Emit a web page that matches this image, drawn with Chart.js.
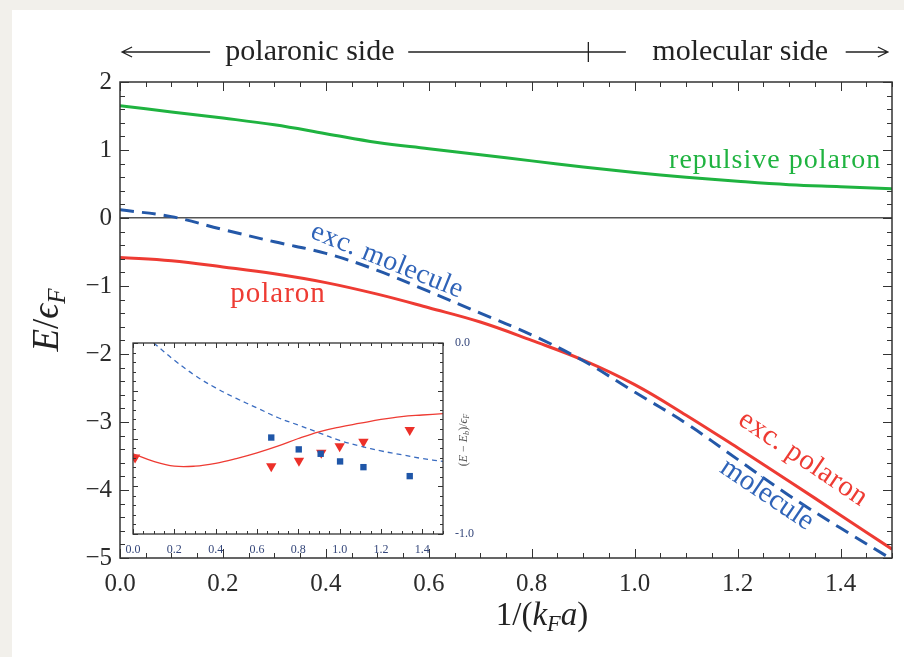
<!DOCTYPE html>
<html>
<head>
<meta charset="utf-8">
<script src="https://cdn.jsdelivr.net/npm/chart.js@4.4.0/dist/chart.umd.min.js"></script>
<style>
  html, body { margin: 0; padding: 0; background: #f2f0eb; }
  #wrap { position: relative; width: 904px; height: 657px; }
  #main { position: absolute; left: 0; top: 0; }
  #inset { position: absolute; left: 100px; top: 320px; }
</style>
</head>
<body>
<div id="wrap">
  <canvas id="main" width="904" height="657"></canvas>
  <canvas id="inset" width="400" height="240"></canvas>
</div>
<script>
// main panel: energies vs 1/(kF a)
const xs = [0, 0.1, 0.2, 0.3, 0.4, 0.5, 0.6, 0.7, 0.8, 0.9, 1.0, 1.1, 1.2, 1.3, 1.4, 1.5];
const repulsive = [1.65, 1.56, 1.47, 1.37, 1.24, 1.11, 1.02, 0.93, 0.84, 0.75, 0.67, 0.60, 0.54, 0.49, 0.46, 0.43];
const polaron = [-0.58, -0.63, -0.72, -0.82, -0.95, -1.12, -1.32, -1.53, -1.80, -2.09, -2.45, -2.90, -3.38, -3.87, -4.37, -4.87];
const molecule = [0.12, 0.02, -0.17, -0.35, -0.52, -0.77, -1.08, -1.40, -1.72, -2.10, -2.56, -3.02, -3.55, -4.08, -4.56, -5.02];

// inset: (E - Eb)/eF
const insetXs = [0, 0.1, 0.2, 0.3, 0.4, 0.5, 0.6, 0.7, 0.8, 0.9, 1.0, 1.1, 1.2, 1.3, 1.4, 1.5];
const insetPolaron = [-0.58, -0.62, -0.645, -0.645, -0.63, -0.605, -0.575, -0.54, -0.50, -0.465, -0.44, -0.42, -0.40, -0.385, -0.377, -0.37];
const insetMolXs = [0.1, 0.2, 0.3, 0.4, 0.5, 0.6, 0.7, 0.8, 0.9, 1.0, 1.1, 1.2, 1.3, 1.4, 1.5];
const insetMolecule = [0, -0.09, -0.17, -0.235, -0.29, -0.34, -0.39, -0.43, -0.47, -0.51, -0.54, -0.565, -0.585, -0.605, -0.62];
const expMolX = [0.669, 0.802, 0.908, 1.002, 1.115, 1.339];
const expMolY = [-0.495, -0.557, -0.58, -0.62, -0.65, -0.697];
const expPolX = [0.01, 0.669, 0.803, 0.911, 1.0, 1.115, 1.339];
const expPolY = [-0.60, -0.645, -0.617, -0.575, -0.54, -0.517, -0.456];

const SERIF = '"Liberation Serif", "DejaVu Serif", serif';
const GREEN = '#1fb340', RED = '#ee3b33', BLUE = '#2458a8';

const pts = (x, y) => x.map((v, i) => ({ x: v, y: y[i] }));

function frameTicks(chart, o) {
  const { ctx, chartArea: a, scales } = chart;
  const x = scales.x, y = scales.y;
  ctx.save();
  ctx.strokeStyle = o.color;
  ctx.lineWidth = 1;
  ctx.beginPath();
  const nx = Math.round((x.max - x.min) / o.xMinor);
  for (let i = 0; i <= nx; i++) {
    const v = x.min + i * o.xMinor;
    const r = v / o.xMajor;
    const L = Math.abs(r - Math.round(r)) < 1e-6 ? o.maj : o.min;
    const px = Math.round(x.getPixelForValue(v)) + 0.5;
    ctx.moveTo(px, a.bottom); ctx.lineTo(px, a.bottom - L);
    ctx.moveTo(px, a.top); ctx.lineTo(px, a.top + L);
  }
  const ny = Math.round((y.max - y.min) / o.yMinor);
  for (let i = 0; i <= ny; i++) {
    const v = y.min + i * o.yMinor;
    const r = v / o.yMajor;
    const L = Math.abs(r - Math.round(r)) < 1e-6 ? o.maj : o.min;
    const py = Math.round(y.getPixelForValue(v)) + 0.5;
    ctx.moveTo(a.left, py); ctx.lineTo(a.left + L, py);
    ctx.moveTo(a.right, py); ctx.lineTo(a.right - L, py);
  }
  ctx.stroke();
  ctx.lineWidth = o.frame;
  ctx.strokeRect(a.left, a.top, a.width, a.height);
  ctx.restore();
}

// draw a run of [text, italic, sub] pieces, centred at 0,0
function richText(ctx, parts, size, color) {
  const pieces = parts.map(([t, it, sub]) => {
    const s = sub ? size * 0.68 : size;
    const f = (it ? 'italic ' : '') + s + 'px ' + SERIF;
    ctx.font = f;
    return { t, f, sub, w: ctx.measureText(t).width };
  });
  const total = pieces.reduce((s, p) => s + p.w, 0);
  let cx = -total / 2;
  ctx.fillStyle = color;
  ctx.textBaseline = 'alphabetic';
  ctx.textAlign = 'left';
  for (const p of pieces) {
    ctx.font = p.f;
    ctx.fillText(p.t, cx, p.sub ? size * 0.52 : size * 0.33);
    cx += p.w;
  }
}

function curveLabel(chart, text, xv, yv, deg, color, size, spacing) {
  const { ctx, scales } = chart;
  ctx.save();
  ctx.translate(scales.x.getPixelForValue(xv), scales.y.getPixelForValue(yv));
  ctx.rotate(deg * Math.PI / 180);
  ctx.font = size + 'px ' + SERIF;
  ctx.letterSpacing = (spacing || 0) + 'px';
  ctx.fillStyle = color;
  ctx.textAlign = 'center';
  ctx.textBaseline = 'middle';
  ctx.fillText(text, 0, 0);
  ctx.restore();
}

function arrowHead(ctx, x, y, dir) {
  ctx.moveTo(x - dir * 10, y - 5);
  ctx.lineTo(x, y);
  ctx.lineTo(x - dir * 10, y + 5);
}

const mainDecor = {
  id: 'mainDecor',
  beforeDraw(chart) {
    const { ctx } = chart;
    ctx.save();
    ctx.fillStyle = '#f2f0eb';
    ctx.fillRect(0, 0, chart.width, chart.height);
    ctx.fillStyle = '#ffffff';
    ctx.fillRect(12, 10, chart.width - 12, chart.height - 10);
    ctx.restore();
  },
  afterDatasetsDraw(chart) {
    const { ctx, chartArea: a, scales: { x } } = chart;
    frameTicks(chart, { xMinor: 0.05, xMajor: 0.2, yMinor: 0.2, yMajor: 1, min: 5, maj: 9, frame: 1.5, color: '#333' });

    curveLabel(chart, 'repulsive polaron', 1.273, 0.84, 0, GREEN, 28, 1);
    curveLabel(chart, 'exc. molecule', 0.519, -0.63, 22, '#2f63b8', 28, 0.5);
    curveLabel(chart, 'polaron', 0.307, -1.12, 0, RED, 29, 1);
    curveLabel(chart, 'exc. polaron', 1.327, -3.54, 34, RED, 29, 0.5);
    curveLabel(chart, 'molecule', 1.257, -4.07, 34, '#2f63b8', 29, 0);

    // top annotation line
    const ty = a.top - 30;
    ctx.save();
    ctx.strokeStyle = '#222';
    ctx.lineWidth = 1.3;
    ctx.beginPath();
    const l0 = x.getPixelForValue(0.004), l1 = x.getPixelForValue(0.175);
    ctx.moveTo(l0, ty); ctx.lineTo(l1, ty);
    arrowHead(ctx, l0, ty, -1);
    ctx.moveTo(x.getPixelForValue(0.56), ty); ctx.lineTo(x.getPixelForValue(0.983), ty);
    const tk = x.getPixelForValue(0.91);
    ctx.moveTo(tk, ty - 10); ctx.lineTo(tk, ty + 10);
    const r0 = x.getPixelForValue(1.41), r1 = x.getPixelForValue(1.492);
    ctx.moveTo(r0, ty); ctx.lineTo(r1, ty);
    arrowHead(ctx, r1, ty, 1);
    ctx.stroke();
    ctx.font = '30px ' + SERIF;
    ctx.fillStyle = '#222';
    ctx.textAlign = 'center';
    ctx.textBaseline = 'middle';
    ctx.fillText('polaronic side', x.getPixelForValue(0.369), ty);
    ctx.fillText('molecular side', x.getPixelForValue(1.205), ty);
    ctx.restore();

    // axis titles
    ctx.save();
    ctx.translate(x.getPixelForValue(0.82), 614);
    richText(ctx, [['1/(', false], ['k', true], ['F', true, true], ['a', true], [')', false]], 33, '#222');
    ctx.restore();
    ctx.save();
    ctx.translate(46, 320);
    ctx.rotate(-Math.PI / 2);
    richText(ctx, [['E', true], ['/', false], ['\u03F5', true], ['F', true, true]], 37, '#222');
    ctx.restore();
  }
};

new Chart(document.getElementById('main'), {
  type: 'line',
  data: {
    datasets: [
      { label: 'repulsive polaron', data: pts(xs, repulsive), borderColor: GREEN, borderWidth: 3 },
      { label: 'exc. molecule', data: pts(xs, molecule), borderColor: BLUE, borderWidth: 3, borderDash: [14, 8] },
      { label: 'polaron', data: pts(xs, polaron), borderColor: RED, borderWidth: 3 }
    ]
  },
  options: {
    responsive: false,
    animation: false,
    layout: { padding: { top: 82, right: 12, left: 0, bottom: 0 } },
    elements: { point: { radius: 0 }, line: { tension: 0.4 } },
    plugins: { legend: { display: false }, tooltip: { enabled: false } },
    scales: {
      x: {
        type: 'linear', min: 0, max: 1.5,
        grid: { display: false },
        border: { display: false },
        ticks: {
          stepSize: 0.2, includeBounds: false, padding: 3, color: '#2b2b2b',
          font: { family: SERIF, size: 25 },
          callback: v => v.toFixed(1)
        },
        afterFit: s => { s.height = 99; }
      },
      y: {
        min: -5, max: 2,
        grid: {
          drawTicks: false, lineWidth: 1.5,
          color: c => (c.tick && c.tick.value === 0 ? '#555' : 'rgba(0,0,0,0)')
        },
        border: { display: false },
        ticks: {
          stepSize: 1, padding: 8, color: '#2b2b2b',
          font: { family: SERIF, size: 25 },
          callback: v => (v < 0 ? '\u2212' + Math.abs(v) : String(v))
        },
        afterFit: s => { s.width = 120; }
      }
    }
  },
  plugins: [mainDecor]
});

const insetDecor = {
  id: 'insetDecor',
  beforeDatasetsDraw(chart) {
    const { ctx, chartArea: a } = chart;
    ctx.save();
    ctx.fillStyle = '#fff';
    ctx.fillRect(a.left, a.top, a.width, a.height);
    ctx.restore();
  },
  afterDatasetsDraw(chart) {
    const { ctx, chartArea: a } = chart;
    frameTicks(chart, { xMinor: 0.05, xMajor: 0.2, yMinor: 0.05, yMajor: 0.25, min: 3, maj: 5, frame: 1.3, color: '#333' });
    ctx.save();
    ctx.translate(a.right + 20, 120);
    ctx.rotate(-Math.PI / 2);
    richText(ctx, [['(', false], ['E', true], [' \u2212 ', false], ['E', true], ['b', true, true], [')/', false], ['\u03F5', true], ['F', true, true]], 12, '#555');
    ctx.restore();
  }
};

new Chart(document.getElementById('inset'), {
  type: 'line',
  data: {
    datasets: [
      { data: pts(insetXs, insetPolaron), borderColor: RED, borderWidth: 1.3, pointRadius: 0 },
      { data: pts(insetMolXs, insetMolecule), borderColor: '#3a6cc0', borderWidth: 1.3, borderDash: [5, 4], pointRadius: 0 },
      { data: pts(expMolX, expMolY), showLine: false, pointStyle: 'rect', pointRadius: 4.5, backgroundColor: '#1f56a8', borderWidth: 0 },
      { data: pts(expPolX, expPolY), showLine: false, pointStyle: 'triangle', rotation: 180, pointRadius: 6, backgroundColor: '#ec3029', borderWidth: 0 }
    ]
  },
  options: {
    responsive: false,
    animation: false,
    layout: { padding: { top: 23, right: 0, left: 33, bottom: 0 } },
    elements: { line: { tension: 0.4 } },
    plugins: { legend: { display: false }, tooltip: { enabled: false } },
    scales: {
      x: {
        type: 'linear', min: 0, max: 1.5,
        grid: { display: false },
        border: { display: false },
        ticks: {
          stepSize: 0.2, includeBounds: false, padding: 1, color: '#34467a',
          font: { family: SERIF, size: 12 },
          callback: v => v.toFixed(1)
        },
        afterFit: s => { s.height = 26; }
      },
      y: {
        position: 'right', min: -1, max: 0,
        grid: { display: false },
        border: { display: false },
        ticks: {
          stepSize: 1, padding: 4, color: '#34467a',
          font: { family: SERIF, size: 12 },
          callback: v => v.toFixed(1)
        },
        afterFit: s => { s.width = 57; }
      }
    }
  },
  plugins: [insetDecor]
});
</script>
</body>
</html>
